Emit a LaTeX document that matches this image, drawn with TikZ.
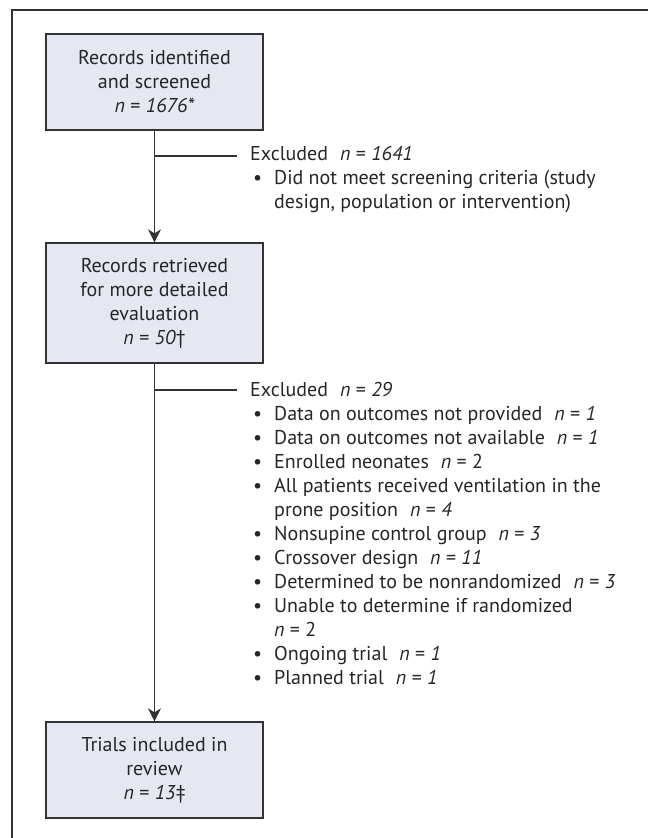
\documentclass[tikz,border=0pt]{standalone}
\usepackage{fontspec}
\setmainfont{PT Sans}
\usetikzlibrary{arrows.meta, positioning}
\usepackage{xcolor}
\definecolor{boxfill}{HTML}{E5E7F1}
\definecolor{linegray}{HTML}{333333}
\newcommand{\blt}{\hspace*{3pt}\makebox[21pt][l]{\textbullet}}
\newcommand{\nn}[1]{\hspace{0.6em}\textit{n} = \textit{#1}}

\begin{document}
\begin{tikzpicture}[
    x=1pt, y=1pt,
    every node/.style={font=\fontsize{20}{24}\selectfont, text=black!85},
    stage/.style={draw=linegray, line width=1.3pt, fill=boxfill, minimum width=217pt, align=center, inner sep=0pt},
    arr/.style={line width=1.2pt, draw=linegray, -{Stealth[length=13pt, width=13pt, inset=4pt]}},
    branch/.style={line width=1.2pt, draw=linegray},
]
\useasboundingbox (0,0) rectangle (648,838);

% Frame
\draw[line width=1.5pt, linegray] (12,0) -- (12,828) -- (648,828);

% Stages
\node[stage, minimum height=96pt] (rec) at (154.5,756) {Records identified\\and screened\\\textit{n} = \textit{1676*}};
\node[stage, minimum height=120pt] (ret) at (154.5,535) {Records retrieved\\for more detailed\\evaluation\\\textit{n} = \textit{50}†};
\node[stage, minimum height=96pt] (inc) at (154.5,68) {Trials included in\\review\\\textit{n} = \textit{13}‡};

% Exclusions
\node[anchor=base west, inner sep=0pt] (exa) at (250,677) {\begin{tabular}[t]{@{}l@{}l@{}}
\multicolumn{2}{@{}l}{Excluded\nn{1641}}\\
\blt & Did not meet screening criteria (study\\
 & design, population or intervention)
\end{tabular}};
\node[anchor=base west, inner sep=0pt] (exb) at (250,441) {\begin{tabular}[t]{@{}l@{}l@{}}
\multicolumn{2}{@{}l}{Excluded\nn{29}}\\
\blt & Data on outcomes not provided\nn{1}\\
\blt & Data on outcomes not available\nn{1}\\
\blt & Enrolled neonates\hspace{0.6em}\textit{n} = 2\\
\blt & All patients received ventilation in the\\
 & prone position\nn{4}\\
\blt & Nonsupine control group\nn{3}\\
\blt & Crossover design\nn{11}\\
\blt & Determined to be nonrandomized\nn{3}\\
\blt & Unable to determine if randomized\\
 & \textit{n} = 2\\
\blt & Ongoing trial\nn{1}\\
\blt & Planned trial\nn{1}
\end{tabular}};

% Connectors
\coordinate (ja) at (154.5,682);
\coordinate (ea) at (237,682);
\coordinate (jb) at (154.5,448);
\coordinate (eb) at (237,448);
\draw[arr] (rec) -- (ret);
\draw[arr] (ret) -- (inc);
\draw[branch] (ja) -- (ea);
\draw[branch] (jb) -- (eb);

\end{tikzpicture}
\end{document}
